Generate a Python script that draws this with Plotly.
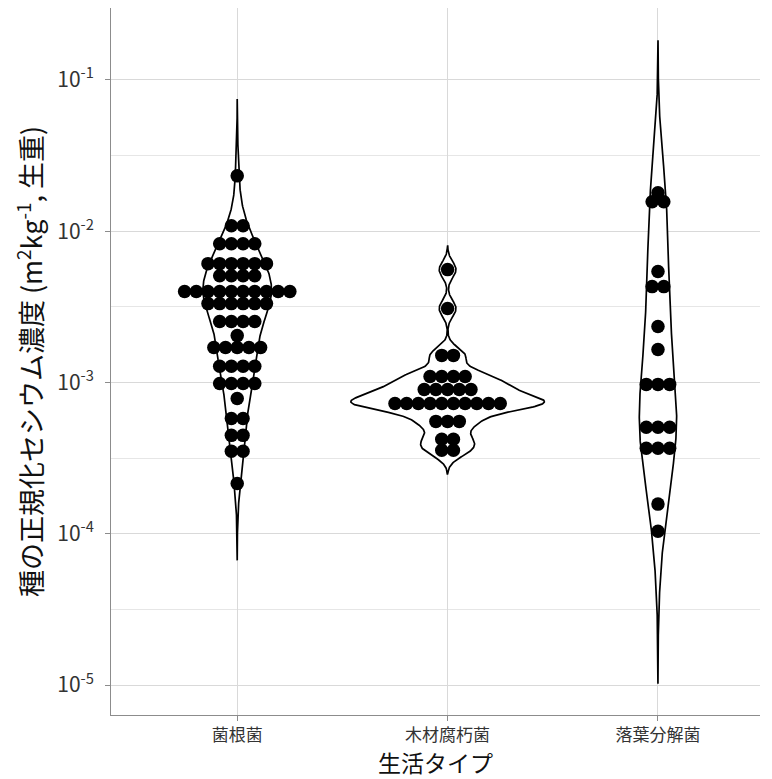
import numpy as np
import plotly.graph_objects as go

# ---- data ----
categories = ["菌根菌", "木材腐朽菌", "落葉分解菌"]

myco_values = [0.0232, 0.01086, 0.00826, 0.00610, 0.00508, 0.00399, 0.00332, 0.00253,
               0.00204, 0.00170, 0.00128, 0.000985, 0.000784, 0.000578, 0.000447,
               0.000351, 0.000215]
myco_counts = [1, 2, 4, 6, 4, 10, 6, 4, 1, 5, 4, 4, 1, 2, 2, 2, 1]

wood_values = [0.00557, 0.00308, 0.00151, 0.001096, 0.000899, 0.000727, 0.000553,
               0.000421, 0.000356]
wood_counts = [1, 1, 2, 4, 5, 10, 3, 2, 2]

litter_values = [0.01795, 0.01567, 0.00541, 0.00430, 0.00234, 0.00165, 0.000971,
                 0.000505, 0.000367, 0.000157, 0.000104]
litter_counts = [1, 2, 1, 2, 1, 1, 3, 3, 3, 1, 1]

groups = [(myco_values, myco_counts), (wood_values, wood_counts), (litter_values, litter_counts)]

y_tick_vals = [1e-5, 1e-4, 1e-3, 1e-2, 1e-1]
y_tick_text = ["10<sup>-5</sup>", "10<sup>-4</sup>", "10<sup>-3</sup>", "10<sup>-2</sup>", "10<sup>-1</sup>"]
y_minor_vals = [10 ** -4.5, 10 ** -3.5, 10 ** -2.5, 10 ** -1.5]

# ---- violin density (ggplot2 style: KDE on log10 scale, nrd0 bw, cut=3, area scaling) ----
def nrd0(x):
    x = np.asarray(x)
    sd = np.std(x, ddof=1)
    q75, q25 = np.percentile(x, [75, 25])
    iqr = (q75 - q25) / 1.34
    lo = min(sd, iqr) if iqr > 0 else sd
    return 0.9 * lo * len(x) ** (-0.2)

dens_list = []
for vals, cnts in groups:
    logs = np.log10(np.repeat(vals, cnts))
    bw = nrd0(logs)
    grid = np.linspace(logs.min() - 3 * bw, logs.max() + 3 * bw, 512)
    d = np.exp(-0.5 * ((grid[:, None] - logs[None, :]) / bw) ** 2).sum(axis=1)
    d = d / (len(logs) * bw * np.sqrt(2 * np.pi))
    dens_list.append((grid, d))

max_d = max(d.max() for _, d in dens_list)

fig = go.Figure()

for i, (grid, d) in enumerate(dens_list):
    half = 0.46 * d / max_d
    xs = np.concatenate([i - half, (i + half)[::-1], [i - half[0]]])
    ys = np.concatenate([10 ** grid, (10 ** grid)[::-1], [10 ** grid[0]]])
    fig.add_trace(go.Scatter(x=xs, y=ys, mode="lines", fill="toself",
                             fillcolor="white", line=dict(color="black", width=1.7),
                             hoverinfo="skip", showlegend=False))

dx = 0.0556
for i, (vals, cnts) in enumerate(groups):
    px, py = [], []
    for v, n in zip(vals, cnts):
        for k in range(n):
            px.append(i + (k - (n - 1) / 2) * dx)
            py.append(v)
    fig.add_trace(go.Scatter(x=px, y=py, mode="markers",
                             marker=dict(color="black", size=13.5, line=dict(width=0)),
                             showlegend=False))

font_family = "Noto Sans CJK JP, Noto Sans, sans-serif"

fig.update_layout(
    width=764, height=771,
    margin=dict(l=103, r=12, t=0, b=64),
    paper_bgcolor="white", plot_bgcolor="white",
    font=dict(family=font_family, color="#222"),
    xaxis=dict(
        range=[-0.6, 2.485],
        automargin=False,
        tickmode="array", tickvals=[0, 1, 2], ticktext=categories,
        tickfont=dict(size=17, color="#333"),
        showgrid=True, gridcolor="#d9d9d9", gridwidth=1,
        zeroline=False,
        showline=True, linecolor="#8c8c8c", linewidth=1,
        ticks="outside", ticklen=5, tickcolor="#8c8c8c",
        title=dict(text="生活タイプ", font=dict(size=23, color="#111"), standoff=4),
    ),
    yaxis=dict(
        type="log",
        range=[-5.198, -0.525],
        automargin=False,
        tickmode="array", tickvals=y_tick_vals, ticktext=y_tick_text,
        tickfont=dict(size=21, color="#333"),
        ticklabelstandoff=7,
        showgrid=True, gridcolor="#d9d9d9", gridwidth=1,
        minor=dict(tickmode="array", tickvals=y_minor_vals, showgrid=True,
                   gridcolor="#e6e6e6", gridwidth=1, ticks=""),
        zeroline=False,
        showline=True, linecolor="#8c8c8c", linewidth=1,
        ticks="outside", ticklen=5, tickcolor="#8c8c8c",
        title=dict(text="種の正規化セシウム濃度 (m<sup>2</sup>kg<sup>-1</sup>, 生重)",
                   font=dict(size=27, color="#111"), standoff=6),
    ),
)

fig.write_html("out.html")
